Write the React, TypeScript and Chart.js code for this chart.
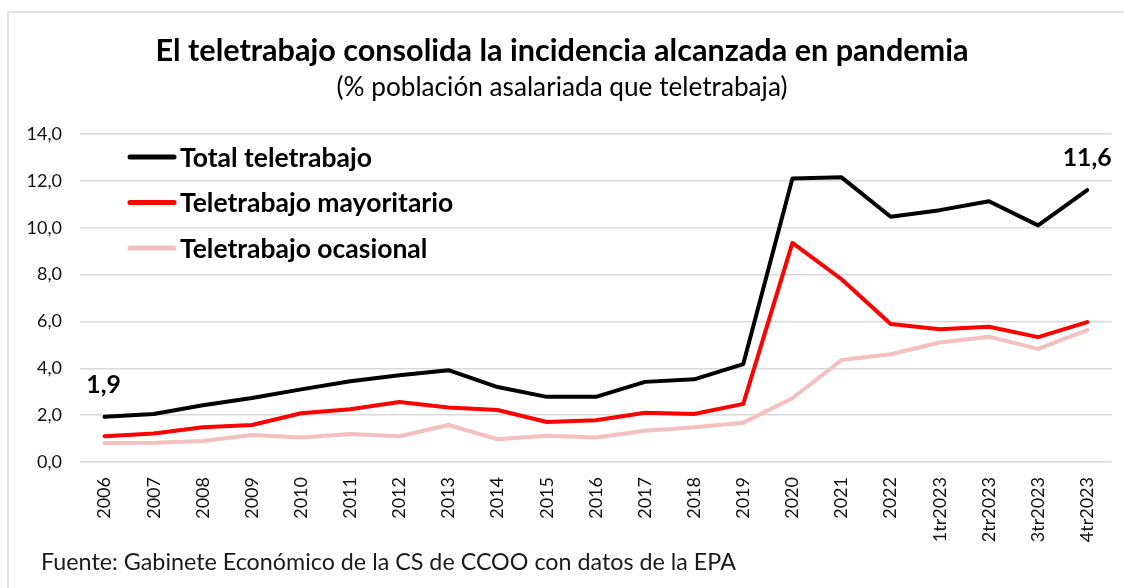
import { useEffect, useRef } from 'react';
import { Chart, registerables } from 'chart.js';

Chart.register(...registerables);

const categories = [
  '2006', '2007', '2008', '2009', '2010', '2011', '2012', '2013', '2014', '2015',
  '2016', '2017', '2018', '2019', '2020', '2021', '2022', '1tr2023', '2tr2023', '3tr2023', '4tr2023',
];

const totalTeletrabajo = [
  1.93, 2.05, 2.42, 2.73, 3.1, 3.45, 3.7, 3.92, 3.2, 2.78,
  2.78, 3.42, 3.53, 4.18, 12.1, 12.15, 10.47, 10.75, 11.13, 10.1, 11.6,
];

const teletrabajoMayoritario = [
  1.1, 1.22, 1.48, 1.58, 2.08, 2.25, 2.56, 2.33, 2.22, 1.71,
  1.78, 2.1, 2.05, 2.48, 9.35, 7.8, 5.89, 5.67, 5.77, 5.33, 5.97,
];

const teletrabajoOcasional = [
  0.81, 0.82, 0.9, 1.15, 1.05, 1.2, 1.1, 1.58, 0.97, 1.12,
  1.05, 1.33, 1.48, 1.68, 2.72, 4.35, 4.6, 5.1, 5.35, 4.83, 5.63,
];

const seriesNames = ['Total teletrabajo', 'Teletrabajo mayoritario', 'Teletrabajo ocasional'];
const seriesColors = ['#000000', '#ff0000', '#f4bfbf'];

const yMin = 0;
const yMax = 14;
const yStep = 2;

const labelFirst = '1,9';
const labelLast = '11,6';

const TITLE = 'El teletrabajo consolida la incidencia alcanzada en pandemia';
const SUBTITLE = '(% población asalariada que teletrabaja)';
const SOURCE = 'Fuente: Gabinete Económico de la CS de CCOO con datos de la EPA';

const FAMILY = 'Lato, "Open Sans", sans-serif';

function fitFont(ctx: CanvasRenderingContext2D, text: string, weight: string, target: number): string {
  ctx.font = `${weight} 20px ${FAMILY}`;
  const w = ctx.measureText(text).width;
  const size = (20 * target) / w;
  return `${weight} ${size.toFixed(2)}px ${FAMILY}`;
}

const overlayPlugin = {
  id: 'overlay',
  afterDraw(chart: any) {
    const ctx: CanvasRenderingContext2D = chart.ctx;
    ctx.save();
    // outer frame
    ctx.strokeStyle = '#d9d9d9';
    ctx.lineWidth = 1.5;
    ctx.strokeRect(8, 12, 1200, 700);

    ctx.fillStyle = '#000000';
    ctx.textBaseline = 'alphabetic';

    // title
    ctx.textAlign = 'center';
    ctx.font = fitFont(ctx, TITLE, 'bold', 813);
    ctx.fillText(TITLE, 562, 61);
    ctx.font = fitFont(ctx, SUBTITLE, 'normal', 451);
    ctx.fillText(SUBTITLE, 562, 96);

    // legend
    ctx.textAlign = 'left';
    const legendFont = fitFont(ctx, seriesNames[0], 'bold', 192);
    const rowsY = [157, 202.5, 248];
    seriesNames.forEach((name, i) => {
      ctx.strokeStyle = seriesColors[i];
      ctx.lineWidth = 5;
      ctx.lineCap = 'round';
      ctx.beginPath();
      ctx.moveTo(130, rowsY[i]);
      ctx.lineTo(174, rowsY[i]);
      ctx.stroke();
      ctx.font = legendFont;
      ctx.textBaseline = 'middle';
      ctx.fillStyle = '#000000';
      ctx.fillText(name, 180, rowsY[i] + 1);
    });

    // data labels
    const meta = chart.getDatasetMeta(0);
    const first = meta.data[0];
    const last = meta.data[meta.data.length - 1];
    ctx.textAlign = 'center';
    ctx.textBaseline = 'alphabetic';
    ctx.font = fitFont(ctx, labelLast, 'bold', 49);
    ctx.fillText(labelFirst, first.x - 1, first.y - 24);
    ctx.fillText(labelLast, last.x, last.y - 24);

    // source
    ctx.textAlign = 'left';
    ctx.fillStyle = '#1a1a1a';
    ctx.font = fitFont(ctx, SOURCE, 'normal', 695);
    ctx.fillText(SOURCE, 41, 570);
    ctx.restore();
  },
};

export default function App() {
  const canvasRef = useRef<HTMLCanvasElement | null>(null);

  useEffect(() => {
    if (!canvasRef.current) return;
    const chart = new Chart(canvasRef.current, {
      type: 'line',
      data: {
        labels: categories,
        datasets: [
          { label: seriesNames[0], data: totalTeletrabajo, borderColor: seriesColors[0], backgroundColor: seriesColors[0] },
          { label: seriesNames[1], data: teletrabajoMayoritario, borderColor: seriesColors[1], backgroundColor: seriesColors[1] },
          { label: seriesNames[2], data: teletrabajoOcasional, borderColor: seriesColors[2], backgroundColor: seriesColors[2] },
        ].map((d) => ({
          ...d,
          borderWidth: 4,
          pointRadius: 0,
          tension: 0,
          borderJoinStyle: 'round' as const,
          borderCapStyle: 'round' as const,
        })),
      },
      options: {
        responsive: false,
        animation: false,
        layout: { padding: { top: 134, right: 8, left: 0, bottom: 0 } },
        plugins: {
          legend: { display: false },
          title: { display: false },
          tooltip: { enabled: false },
        },
        scales: {
          x: {
            offset: true,
            grid: { display: false, drawTicks: false },
            border: { display: false },
            ticks: {
              autoSkip: false,
              minRotation: 90,
              maxRotation: 90,
              padding: 15,
              color: '#111111',
              font: { family: FAMILY, size: 18 },
            },
            afterFit: (scale: any) => {
              scale.height = 126;
            },
          },
          y: {
            min: yMin,
            max: yMax,
            grid: { color: '#d9d9d9', lineWidth: 1.5, drawTicks: false },
            border: { display: false },
            ticks: {
              stepSize: yStep,
              padding: 18,
              color: '#111111',
              font: { family: FAMILY, size: 18 },
              callback: (v: any) => Number(v).toFixed(1).replace('.', ','),
            },
            afterFit: (scale: any) => {
              scale.width = 80;
            },
          },
        },
      },
      plugins: [overlayPlugin],
    });
    return () => chart.destroy();
  }, []);

  return (
    <div style={{ position: 'fixed', left: 0, top: 0, width: 1124, height: 588, background: '#ffffff' }}>
      <canvas ref={canvasRef} width={1124} height={588} style={{ width: 1124, height: 588, display: 'block' }} />
    </div>
  );
}
